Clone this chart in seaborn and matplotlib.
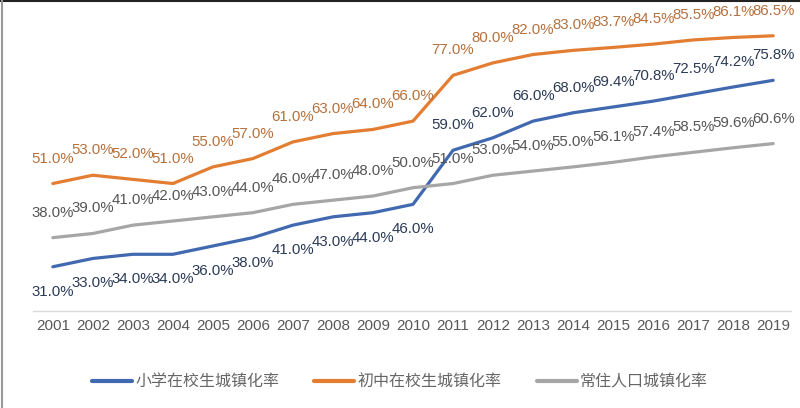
import pandas as pd
import seaborn as sns
import matplotlib.pyplot as plt
from matplotlib.lines import Line2D

years = list(range(2001, 2020))
primary = [31.0, 33.0, 34.0, 34.0, 36.0, 38.0, 41.0, 43.0, 44.0, 46.0,
           59.0, 62.0, 66.0, 68.0, 69.4, 70.8, 72.5, 74.2, 75.8]
junior = [51.0, 53.0, 52.0, 51.0, 55.0, 57.0, 61.0, 63.0, 64.0, 66.0,
          77.0, 80.0, 82.0, 83.0, 83.7, 84.5, 85.5, 86.1, 86.5]
resident = [38.0, 39.0, 41.0, 42.0, 43.0, 44.0, 46.0, 47.0, 48.0, 50.0,
            51.0, 53.0, 54.0, 55.0, 56.1, 57.4, 58.5, 59.6, 60.6]
names = ['小学在校生城镇化率', '初中在校生城镇化率', '常住人口城镇化率']

line_colors = ['#4169B0', '#E37D32', '#A6A6A6']
label_colors = ['#2B3A55', '#B5703D', '#555555']

df = pd.DataFrame({'year': years * 3,
                   'rate': primary + junior + resident,
                   'series': [names[0]] * 19 + [names[1]] * 19 + [names[2]] * 19})

sns.set_style('white')
plt.rcParams['font.family'] = ['Liberation Sans', 'Noto Sans CJK SC', 'DejaVu Sans']

fig = plt.figure(figsize=(8, 4.08), dpi=100)
ax = fig.add_axes([0.041, 0.238, 0.948, 0.762])

sns.lineplot(data=df, x='year', y='rate', hue='series', hue_order=names,
             palette=line_colors, linewidth=2.3, ax=ax, legend=False)

# blue labels go under the line while it is below the grey one
for vals, col, nm in zip([primary, junior, resident], label_colors, names):
    for i, (yr, v) in enumerate(zip(years, vals)):
        below = nm == names[0] and v < resident[i]
        ax.annotate(f'{v:.1f}%', (yr, v), xytext=(0, -18 if below else 18),
                    textcoords='offset points', ha='center', va='center',
                    fontsize=10.8, color=col, family='Liberation Sans')

ax.set_xlim(2000.5, 2019.45)
ax.set_ylim(20.4, 95.1)
ax.set_xticks(years)
ax.set_xticklabels([str(y) for y in years], family='Liberation Sans',
                   fontsize=11, color='#595959')
ax.set_yticks([])
ax.set_xlabel('')
ax.set_ylabel('')
ax.tick_params(axis='x', length=0, pad=6)
for s in ['top', 'left', 'right']:
    ax.spines[s].set_visible(False)
ax.spines['bottom'].set_color('#D9D9D9')
ax.spines['bottom'].set_linewidth(1)

handles = [Line2D([], [], color=c, linewidth=3) for c in line_colors]
fig.legend(handles, names, loc='center', bbox_to_anchor=(0.5, 1 - 382 / 408), ncol=3,
           frameon=False, handlelength=2.5, handletextpad=0.2, columnspacing=2.2,
           prop={'family': 'Noto Sans CJK SC', 'size': 11.5}, labelcolor='#666666')

fig.add_artist(Line2D([0, 1], [0.998, 0.998], color='#222222', linewidth=1.5, transform=fig.transFigure))
fig.add_artist(Line2D([0.003, 0.003], [0, 1], color='#999999', linewidth=1.5, transform=fig.transFigure))

fig.savefig('out.png', dpi=100)
